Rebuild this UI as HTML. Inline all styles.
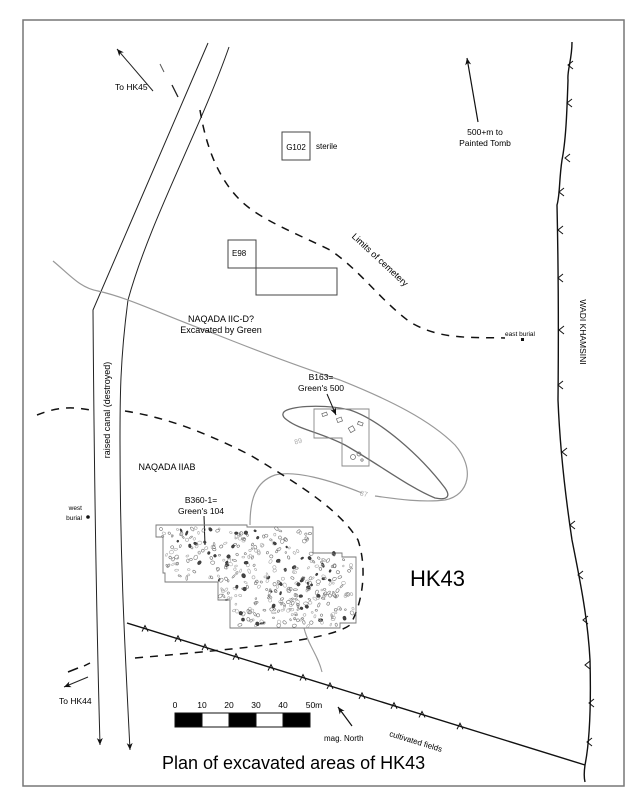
<!DOCTYPE html>
<html><head><meta charset="utf-8"><style>
html,body{margin:0;padding:0;background:#fff}
svg{display:block;font-family:"Liberation Sans",Arial,sans-serif}
</style></head><body>
<svg id="s" width="641" height="800" viewBox="0 0 641 800" xmlns="http://www.w3.org/2000/svg">
<defs>
<marker id="ar" markerWidth="8" markerHeight="8" refX="7" refY="4" orient="auto" markerUnits="userSpaceOnUse"><path d="M0,1 L7,4 L0,7 L2,4 Z" fill="#111"/></marker>
</defs>
<rect x="0" y="0" width="641" height="800" fill="#fff"/>
<rect x="23" y="20" width="601" height="766" fill="none" stroke="#777" stroke-width="1.5"/>

<path d="M208,43 C180,110 140,200 93,310 C94,450 96,600 100,745" fill="none" stroke="#222" stroke-width="1" marker-end="url(#ar)"/>
<path d="M229,47 C200,130 150,220 128,300 C120,360 120,400 120,440 C120,560 125,650 130,750" fill="none" stroke="#222" stroke-width="1" marker-end="url(#ar)"/>
<line x1="153" y1="91" x2="117" y2="49" stroke="#222" stroke-width="1" marker-end="url(#ar)"/>
<line x1="160" y1="64" x2="164" y2="72" stroke="#555" stroke-width="1"/>
<line x1="172" y1="85" x2="178" y2="97" stroke="#222" stroke-width="1.3"/>
<text x="115" y="90" font-size="8.5">To HK45</text>
<line x1="68" y1="672" x2="78" y2="668" stroke="#111" stroke-width="1.5"/>
<line x1="84" y1="666" x2="90" y2="663" stroke="#111" stroke-width="1.5"/>
<line x1="88" y1="677" x2="64" y2="687" stroke="#222" stroke-width="1" marker-end="url(#ar)"/>
<text x="59" y="704" font-size="8.5">To HK44</text>

<path d="M200,110 C205,140 215,175 240,200 C260,220 300,235 330,250 C360,270 380,300 410,322 C440,340 470,337 505,338" fill="none" stroke="#111" stroke-width="1.5" stroke-dasharray="8,7"/>
<text transform="translate(378,262) rotate(43)" font-size="9" text-anchor="middle">Limits of cemetery</text>

<rect x="282" y="132" width="28" height="28" fill="none" stroke="#444" stroke-width="1"/>
<text x="296" y="150" font-size="8" text-anchor="middle">G102</text>
<text x="316" y="149" font-size="8">sterile</text>

<rect x="228" y="240" width="28" height="28" fill="none" stroke="#444" stroke-width="1"/>
<text x="232" y="256" font-size="8">E98</text>
<rect x="256" y="268" width="81" height="27" fill="none" stroke="#444" stroke-width="1"/>

<line x1="478" y1="122" x2="467" y2="58" stroke="#111" stroke-width="1.2" marker-end="url(#ar)"/>
<text x="485" y="135" font-size="8.5" text-anchor="middle">500+m to</text>
<text x="485" y="146" font-size="8.5" text-anchor="middle">Painted Tomb</text>

<text x="505" y="336" font-size="6.5">east burial</text>
<rect x="521" y="338" width="3" height="3" fill="#111"/>

<path d="M53,261 C70,275 80,288 98,291 C130,298 170,318 210,332 C260,352 300,367 340,380 C390,400 430,420 455,445 C475,468 470,495 445,500 C420,503 390,498 375,496" fill="none" stroke="#999" stroke-width="1.2"/>
<path d="M362,493 C330,480 295,470 275,475 C255,482 250,500 250,525" fill="none" stroke="#999" stroke-width="1.2"/>
<text x="360" y="497" font-size="7" fill="#aaa" transform="rotate(12 368 494)">87</text>
<path d="M304,628 C308,645 318,655 322,672" fill="none" stroke="#999" stroke-width="1.1"/>
<path d="M287,410 C300,405 330,405 350,410 C380,420 420,455 445,488 C452,498 445,500 435,498 C410,488 380,465 345,445 C320,432 300,430 287,420 C281,416 282,412 287,410 Z" fill="none" stroke="#666" stroke-width="1.3"/>
<text x="294" y="443" font-size="7" fill="#aaa" transform="rotate(-15 300 440)">89</text>

<path d="M314,409 H369 V466 H342 V438 H314 Z" fill="none" stroke="#888" stroke-width="0.9"/>
<g fill="none" stroke="#666" stroke-width="0.7">
<rect x="322" y="413" width="5" height="3" transform="rotate(-20 324 414)"/>
<rect x="337" y="418" width="5" height="4" transform="rotate(-20 339 420)"/>
<rect x="349" y="427" width="5" height="5" transform="rotate(-30 351 429)"/>
<rect x="358" y="422" width="5" height="3" transform="rotate(20 360 423)"/>
<circle cx="353" cy="457" r="2.5"/><circle cx="359" cy="454" r="2"/><circle cx="362" cy="460" r="1.2"/>
</g>
<text x="321" y="380" font-size="8.5" text-anchor="middle">B163=</text>
<text x="321" y="391" font-size="8.5" text-anchor="middle">Green's 500</text>
<line x1="327" y1="394" x2="336" y2="415" stroke="#111" stroke-width="1" marker-end="url(#ar)"/>

<text x="221" y="322" font-size="9" text-anchor="middle">NAQADA IIC-D?</text>
<text x="221" y="333" font-size="9" text-anchor="middle">Excavated by Green</text>

<path d="M37,415 C50,410 65,405 90,410 M125,411 C170,418 210,435 250,455 C300,485 340,510 358,540 C368,570 362,605 350,625 C330,640 250,648 135,658" fill="none" stroke="#111" stroke-width="1.5" stroke-dasharray="8,7"/>

<text x="107" y="410" font-size="9" text-anchor="middle" transform="rotate(-90 107 410)" dy="3">raised canal (destroyed)</text>
<text x="167" y="470" font-size="9" text-anchor="middle">NAQADA IIAB</text>
<text x="82" y="510" font-size="6.5" text-anchor="end">west</text>
<text x="82" y="520" font-size="6.5" text-anchor="end">burial</text>
<circle cx="88" cy="517" r="1.8" fill="#111"/>

<text x="201" y="503" font-size="8.5" text-anchor="middle">B360-1=</text>
<text x="201" y="514" font-size="8.5" text-anchor="middle">Green's 104</text>
<line x1="204" y1="516" x2="205" y2="545" stroke="#111" stroke-width="1"/>

<path d="M156,525 H247 V527 H312 V527 H313 V553 H342 V557 H356 V623 H340 V628 H230 V600 H218 V582 H165 V573 H163 V537 H156 Z" fill="none" stroke="#777" stroke-width="0.9"/>
<g id="graves" fill="none" stroke="#777" stroke-width="0.6"></g>

<text x="410" y="586" font-size="22">HK43</text>

<path d="M127,623 L585,765" fill="none" stroke="#111" stroke-width="1.4"/>
<g id="cticks" fill="none" stroke="#111" stroke-width="1"></g>
<text transform="translate(415,744) rotate(17)" font-size="8" text-anchor="middle">cultivated fields</text>

<path d="M572,42 C572,60 567,70 568,80 C567,110 566,140 562,160 C559,180 560,195 557,205 C558,250 559,300 558,400 C560,450 566,500 572,540 C580,580 588,620 590,660 C591,700 590,740 585,765 C584,772 584,778 585,782" fill="none" stroke="#111" stroke-width="1.4"/>
<g id="wticks" fill="none" stroke="#111" stroke-width="1"></g>
<text x="583" y="332" font-size="8.5" text-anchor="middle" transform="rotate(90 583 332)" dy="3">WADI KHAMSINI</text>

<g stroke="#111" stroke-width="1">
<rect x="175" y="713" width="27" height="14" fill="#000"/>
<rect x="202" y="713" width="27" height="14" fill="#fff"/>
<rect x="229" y="713" width="27" height="14" fill="#000"/>
<rect x="256" y="713" width="27" height="14" fill="#fff"/>
<rect x="283" y="713" width="27" height="14" fill="#000"/>
</g>
<g font-size="8.5" text-anchor="middle">
<text x="175" y="708">0</text><text x="202" y="708">10</text><text x="229" y="708">20</text><text x="256" y="708">30</text><text x="283" y="708">40</text><text x="314" y="708">50m</text>
</g>
<line x1="352" y1="726" x2="338" y2="707" stroke="#111" stroke-width="1.2" marker-end="url(#ar)"/>
<text x="324" y="741" font-size="8">mag. North</text>

<text x="162" y="769" font-size="18">Plan of excavated areas of HK43</text>
</svg>
<script>
(function(){
var ns="http://www.w3.org/2000/svg";
var seed=7;function r(){seed=(seed*16807)%2147483647;return (seed-1)/2147483646;}
var g=document.getElementById('graves');
function inside(x,y){
 if(y<528||y>626)return false;
 if(x<158||x>354)return false;
 if(y>537&&x<166)return false;
 if(y>580&&x<220)return false;
 if(y<552&&x>311)return false;
 if(y<558&&x>340)return false;
 if(y>600&&x<232)return false;
 if(y>622&&x>338)return false;
 return true;}
var n=0;
while(n<400){var x=156+r()*200,y=525+r()*104;if(!inside(x,y))continue;
 n++;var e=document.createElementNS(ns,'ellipse');
 var rx=0.8+r()*1.5,ry=0.7+r()*1.1;
 e.setAttribute('cx',x.toFixed(1));e.setAttribute('cy',y.toFixed(1));
 e.setAttribute('rx',rx.toFixed(1));e.setAttribute('ry',ry.toFixed(1));
 e.setAttribute('transform','rotate('+(r()*180|0)+' '+x.toFixed(1)+' '+y.toFixed(1)+')');
 var t=r();
 if(t<0.15){e.setAttribute('fill','#444');e.setAttribute('stroke','#333');}
 else if(t<0.5){e.setAttribute('stroke','#aaa');}
 g.appendChild(e);}
var ct=document.getElementById('cticks');
[145,178,205,236,271,303,330,362,394,422,460].forEach(function(x){
 var y=623+(x-127)*142/458;
 var p=document.createElementNS(ns,'path');
 p.setAttribute('d','M'+(x-3)+','+(y+3)+' L'+x+','+(y-3)+' L'+(x+3)+','+(y+3));
 ct.appendChild(p);});
var wt=document.getElementById('wticks');
[[568,65],[567,103],[565,158],[559,192],[558,230],[558,278],[559,330],[558,385],[562,452],[570,525],[578,575],[583,620],[585,665],[589,703],[587,742]].forEach(function(a){
 var p=document.createElementNS(ns,'path');var x=a[0],y=a[1];
 p.setAttribute('d','M'+(x+5)+','+(y-4)+' L'+x+','+y+' L'+(x+5)+','+(y+4));
 wt.appendChild(p);});
})();
</script>
</body></html>
